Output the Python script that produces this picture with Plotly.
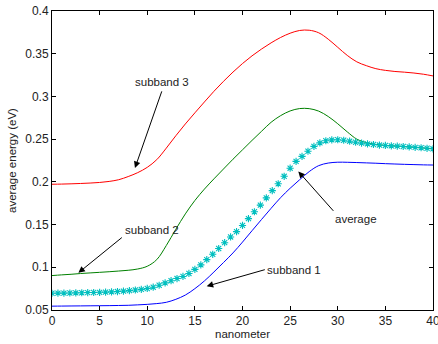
import plotly.graph_objects as go

# ---- data ----
x_lines = list(range(0, 41))
subband1 = [.0545, .0546, .0547, .0548, .0549, .0550, .0551, .0553, .0555, .0560, .0566,
            .0575, .0590, .0625, .0675, .0750, .0840, .0945, .1055, .1168, .1295,
            .1428, .1560, .1690, .1815, .1925, .2025, .2120, .2190, .2220, .2230,
            .2229, .2226, .2222, .2218, .2213, .2209, .2205, .2202, .2199, .2197]
subband2 = [.0903, .0911, .0918, .0927, .0934, .0941, .0948, .0956, .0965, .0980, .1012,
            .1090, .1255, .1445, .1625, .1782, .1915, .2035, .2150, .2265, .2375,
            .2485, .2592, .2697, .2775, .2830, .2858, .2857, .2828, .2765, .2680,
            .2585, .2500, .2460, .2438, .2427, .2420, .2413, .2405, .2396, .2387]
subband3 = [.1972, .1974, .1977, .1981, .1986, .1993, .2005, .2025, .2062, .2108, .2170,
            .2260, .2395, .2540, .2678, .2808, .2935, .3060, .3176, .3285, .3385,
            .3475, .3555, .3627, .3690, .3740, .3772, .3775, .3745, .3670, .3575,
            .3480, .3405, .3360, .3325, .3305, .3292, .3284, .3274, .3260, .3240]

x_avg = [k * 0.625 for k in range(65)]
average = [.0696, .0697, .0698, .0699, .0701, .0702, .0704, .0705, .0707, .0709,
           .0712, .0716, .0721, .0727, .0734, .0742, .0752, .0767, .0790, .0818,
           .0843, .0868, .0893, .0928, .0975, .1028, .1090, .1152, .1220, .1288,
           .1355, .1418, .1490, .1570, .1650, .1728, .1812, .1897, .1978, .2065,
           .2160, .2240, .2298, .2358, .2415, .2456, .2481, .2492, .2493, .2487,
           .2476, .2464, .2453, .2445, .2437, .2431, .2426, .2421, .2418, .2414,
           .2409, .2404, .2399, .2393, .2387]

x_ticks = [0, 5, 10, 15, 20, 25, 30, 35, 40]
y_ticks = [0.05, 0.1, 0.15, 0.2, 0.25, 0.3, 0.35, 0.4]
y_ticklabels = ["0.05", "0.1", "0.15", "0.2", "0.25", "0.3", "0.35", "0.4"]

# label text position (x, y), arrow tail (x, y), arrow tip (x, y)
labels = ["subband 3", "subband 2", "subband 1", "average"]
label_pos = [(11.55, 0.3167), (10.48, 0.1441), (25.44, 0.0970), (31.93, 0.1569)]
arrow_tail = [(11.58, 0.3077), (7.49, 0.1362), (22.5, 0.0977), (29.68, 0.1643)]
arrow_tip = [(8.71, 0.2162), (2.77, 0.0935), (16.24, 0.0778), (25.86, 0.2122)]

FONT = "Liberation Sans, Arial, Helvetica, sans-serif"

fig = go.Figure()
fig.add_trace(go.Scatter(x=x_lines, y=subband3, mode="lines", line=dict(color="#ff0000", width=1, shape="spline"), showlegend=False))
fig.add_trace(go.Scatter(x=x_lines, y=subband2, mode="lines", line=dict(color="#008000", width=1, shape="spline"), showlegend=False))
fig.add_trace(go.Scatter(x=x_lines, y=subband1, mode="lines", line=dict(color="#0000ff", width=1, shape="spline"), showlegend=False))
fig.add_trace(go.Scatter(x=x_avg, y=average, mode="markers",
                         marker=dict(symbol="asterisk-open", size=6, color="#00bfbf",
                                     line=dict(color="#1cc4c4", width=1.1)),
                         showlegend=False))

for lab, (tx, ty) in zip(labels, label_pos):
    fig.add_annotation(x=tx, y=ty, xref="x", yref="y", text=lab, showarrow=False,
                       font=dict(family=FONT, size=11.5, color="#222222"))
for (ax, ay), (hx, hy) in zip(arrow_tail, arrow_tip):
    fig.add_annotation(x=hx, y=hy, ax=ax, ay=ay, xref="x", yref="y", axref="x", ayref="y",
                       text="", showarrow=True, arrowhead=2, arrowsize=1.3, arrowwidth=1,
                       arrowcolor="#000000", standoff=0, startstandoff=0)

axis_common = dict(showline=True, linecolor="#000000", linewidth=1, mirror="ticks",
                   ticks="inside", ticklen=4, tickcolor="#000000", tickwidth=1,
                   showgrid=False, zeroline=False, ticklabeloverflow="allow",
                   automargin=False,
                   tickfont=dict(family=FONT, size=12, color="#222222"))

fig.update_xaxes(range=[0, 40], tickvals=x_ticks,
                 title=dict(text="nanometer", font=dict(family=FONT, size=11.5, color="#222222"), standoff=2),
                 **axis_common)
fig.update_yaxes(range=[0.05, 0.4], tickvals=y_ticks, ticktext=y_ticklabels,
                 title=dict(text="average energy (eV)", font=dict(family=FONT, size=11.5, color="#222222"), standoff=6),
                 **axis_common)

fig.update_layout(width=438, height=344, margin=dict(l=52, r=5, t=11, b=34),
                  plot_bgcolor="#ffffff", paper_bgcolor="#ffffff")

fig.write_html("out.html")
